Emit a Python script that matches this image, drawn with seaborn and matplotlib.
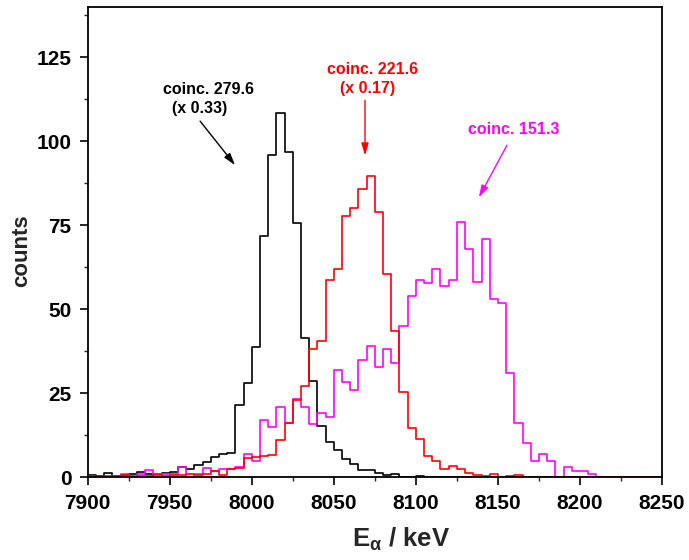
import numpy as np
import pandas as pd
import matplotlib
matplotlib.use("Agg")
import matplotlib.pyplot as plt
import seaborn as sns
from matplotlib.ticker import MultipleLocator

# Alpha-energy spectra in coincidence with gamma lines (5 keV bins, 7900-8250 keV)
bin_edges = list(range(7900, 8255, 5))

coinc_279_6 = [0.7, 0.3, 1.3, 0.3, 0.5, 0.8, 1.6, 1.0, 1.0, 1.3,
               1.6, 3.1, 2.3, 3.6, 4.6, 6.1, 6.8, 7.3, 21.4, 27.9,
               38.8, 71.8, 95.8, 108.5, 96.8, 75.7, 41.3, 28.6, 15.3, 10.3,
               7.9, 5.3, 3.8, 2.1, 2.1, 1.3, 0.6, 0.9, 0.0, 0.0,
               0.3, 0.0, 0.0, 0.0, 0.0, 0.0, 0.0, 0.0, 0.0, 0.0,
               0.0, 0.0, 0.0, 0.0, 0.0, 0.0, 0.0, 0.0, 0.0, 0.0,
               0.0, 0.0, 0.0, 0.0, 0.0, 0.0, 0.0, 0.0, 0.0, 0.0]

coinc_221_6 = [0.3, 0.3, 0.3, 0.3, 0.6, 0.3, 0.3, 0.3, 0.6, 0.3,
               0.6, 0.6, 0.8, 0.6, 1.0, 1.9, 0.6, 2.3, 2.6, 5.6,
               6.1, 6.3, 6.6, 10.9, 16.1, 23.0, 27.2, 38.2, 40.5, 58.7,
               62.0, 77.7, 80.0, 85.9, 89.6, 78.8, 60.6, 43.5, 25.2, 14.7,
               11.4, 6.4, 4.8, 2.3, 3.3, 2.3, 1.1, 0.5, 0.3, 0.8,
               0.0, 0.4, 0.5, 0.0, 0.0, 0.0, 0.0, 0.0, 0.0, 0.0,
               0.0, 0.0, 0.0, 0.0, 0.0, 0.0, 0.0, 0.0, 0.0, 0.0]

coinc_151_3 = [0.0, 0.0, 0.0, 0.0, 0.8, 0.0, 1.0, 2.1, 0.9, 0.9,
               0.8, 2.9, 0.0, 0.9, 2.7, 1.9, 2.3, 2.3, 2.9, 7.0,
               4.8, 17.0, 15.0, 20.9, 16.0, 23.1, 20.9, 15.8, 19.0, 18.0,
               32.0, 28.4, 25.9, 34.8, 39.0, 32.8, 38.0, 34.0, 45.0, 53.9,
               58.8, 57.9, 61.9, 56.9, 58.8, 75.9, 68.0, 58.1, 70.8, 53.0,
               51.9, 30.9, 16.0, 10.0, 4.9, 7.0, 4.9, 0.0, 2.9, 1.9,
               1.9, 0.9, 0.0, 0.0, 0.0, 0.0, 0.0, 0.0, 0.0, 0.0]

edges = np.array(bin_edges, dtype=float)
centers = (edges[:-1] + edges[1:]) / 2

sns.set_theme(style="ticks")
plt.rcParams["font.family"] = ["Liberation Sans", "DejaVu Sans"]
plt.rcParams["font.weight"] = "bold"
plt.rcParams["mathtext.fontset"] = "custom"
plt.rcParams["mathtext.rm"] = "Liberation Sans:bold"
plt.rcParams["mathtext.it"] = "Liberation Sans:bold"
plt.rcParams["mathtext.bf"] = "Liberation Sans:bold"

fig = plt.figure(figsize=(6.89, 5.6), dpi=100)
ax = fig.add_axes([0.1273, 0.1482, 0.8335, 0.8393])

for values, color in [(coinc_279_6, "#000000"),
                      (coinc_151_3, "#ff00ff"),
                      (coinc_221_6, "#ff0000")]:
    spectrum = pd.DataFrame({"E": centers, "counts": values})
    sns.histplot(data=spectrum, x="E", weights="counts", bins=bin_edges,
                 element="step", fill=False, color=color, linewidth=1.2,
                 ax=ax)

ax.set_xlim(7900, 8250)
ax.set_ylim(0, 140)
ax.xaxis.set_major_locator(MultipleLocator(50))
ax.xaxis.set_minor_locator(MultipleLocator(25))
ax.yaxis.set_major_locator(MultipleLocator(25))
ax.yaxis.set_minor_locator(MultipleLocator(12.5))
ax.tick_params(which="major", direction="out", length=5.5, width=1.2,
               labelsize=15, colors="black")
ax.tick_params(which="minor", direction="out", length=3.2, width=1.0)
ax.tick_params(axis="x", which="major", pad=6.5)
ax.tick_params(axis="y", which="major", pad=6.0)
for side in ["left", "right", "top", "bottom"]:
    ax.spines[side].set_visible(True)
    ax.spines[side].set_linewidth(1.3)
    ax.spines[side].set_color("black")

ax.set_xlabel(r"E$_{\alpha}$ / keV", fontsize=18.5, fontweight="bold")
ax.xaxis.set_label_coords(0.5455, -0.103)
ax.set_ylabel("counts", fontsize=16, fontweight="bold")
ax.yaxis.set_label_coords(-0.097, 0.481)

# Labels and arrows for each coincidence gate
ax.text(7973.4, 115.5, "coinc. 279.6", color="black", fontsize=11.5,
        fontweight="bold", ha="center", va="center")
ax.text(7968.4, 109.8, "(x 0.33)", color="black", fontsize=11.5,
        fontweight="bold", ha="center", va="center")
ax.annotate("", xy=(7989.8, 92.9), xytext=(7968.5, 106.0),
            arrowprops=dict(arrowstyle="-|>,head_length=0.6,head_width=0.18",
                            color="black", lw=1.0, shrinkA=0, shrinkB=0))

ax.text(8073.5, 121.4, "coinc. 221.6", color="#ff0000", fontsize=11.5,
        fontweight="bold", ha="center", va="center")
ax.text(8070.8, 115.8, "(x 0.17)", color="#ff0000", fontsize=11.5,
        fontweight="bold", ha="center", va="center")
ax.annotate("", xy=(8069.0, 95.8), xytext=(8069.0, 112.2),
            arrowprops=dict(arrowstyle="-|>,head_length=0.6,head_width=0.18",
                            color="#ff0000", lw=1.0, shrinkA=0, shrinkB=0))

ax.text(8159.8, 103.6, "coinc. 151.3", color="#ff00ff", fontsize=11.5,
        fontweight="bold", ha="center", va="center")
ax.annotate("", xy=(8138.4, 83.3), xytext=(8155.5, 98.8),
            arrowprops=dict(arrowstyle="-|>,head_length=0.6,head_width=0.18",
                            color="#ff00ff", lw=1.0, shrinkA=0, shrinkB=0))

fig.savefig("out.png", dpi=100, facecolor="white")
